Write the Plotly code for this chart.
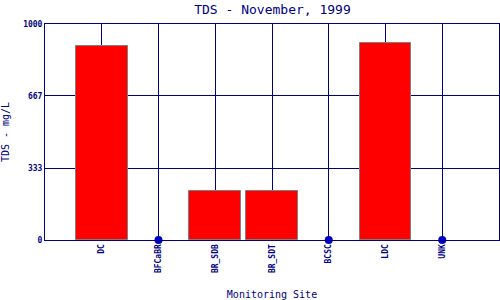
import plotly.graph_objects as go

sites = ["DC", "BFCaBR", "BR_SDB", "BR_SDT", "BCSC", "LDC", "UNK"]
tds = [897, None, 225, 225, None, 911, None]
ytick_vals = [0, 333, 667, 1000]
ytick_text = ["0", "333", "667", "1000"]

navy = "#000080"
missing = [s for s, v in zip(sites, tds) if v is None]

fig = go.Figure()
fig.add_trace(go.Bar(
    x=sites, y=tds, width=0.91,
    marker=dict(color="#FF0000", line=dict(color="#808080", width=1)),
    showlegend=False,
))
fig.add_trace(go.Scatter(
    x=missing, y=[0] * len(missing), mode="markers",
    marker=dict(color="#0000CC", size=8),
    showlegend=False, cliponaxis=False,
))

mono = "DejaVu Sans Mono"
fig.update_layout(
    width=500, height=300,
    margin=dict(l=45, r=1, t=24, b=60),
    paper_bgcolor="white", plot_bgcolor="white",
    title=dict(text="TDS - November, 1999", x=0.545, xanchor="center", y=0.97, yanchor="middle",
               font=dict(family=mono, size=13, color=navy)),
    xaxis=dict(
        type="category", categoryorder="array", categoryarray=sites,
        range=[-1, 7], showgrid=True, gridcolor=navy, gridwidth=1,
        showline=True, linecolor=navy, linewidth=1, mirror=True,
        tickangle=-90, ticks="", zeroline=False,
        tickfont=dict(family=mono, size=8, color=navy, weight="bold"),
        title=dict(text="Monitoring Site", standoff=18, font=dict(family=mono, size=10, color=navy)),
    ),
    yaxis=dict(
        range=[0, 1000], tickvals=ytick_vals, ticktext=ytick_text,
        showgrid=True, gridcolor=navy, gridwidth=1,
        showline=True, linecolor=navy, linewidth=1, mirror=True,
        ticks="", zeroline=False,
        tickfont=dict(family=mono, size=8, color=navy, weight="bold"),
        title=dict(text="TDS - mg/L", standoff=12, font=dict(family=mono, size=10, color=navy)),
    ),
    bargap=0,
)

fig.write_html("out.html")
